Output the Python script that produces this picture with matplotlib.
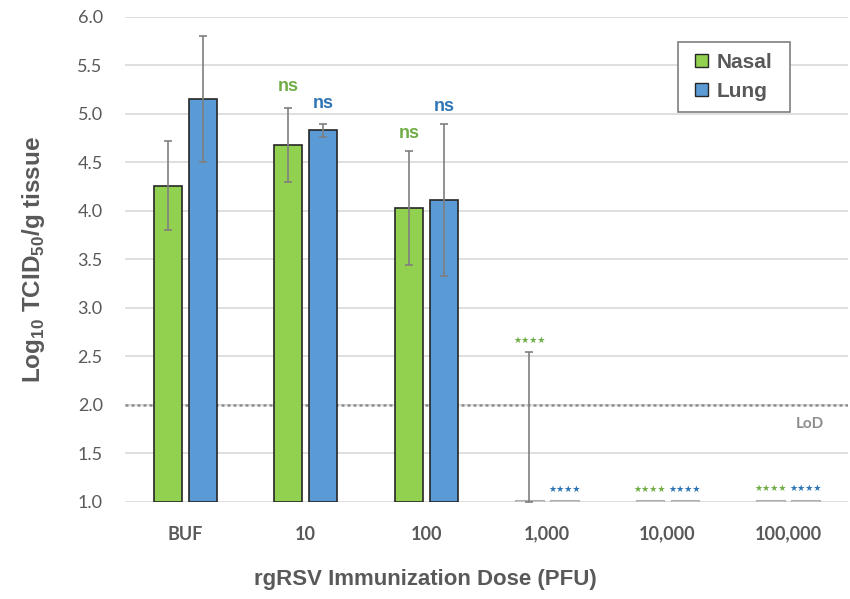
import numpy as np
import matplotlib.pyplot as plt

doses = ['BUF', '10', '100', '1,000', '10,000', '100,000']
nasal = [4.26, 4.68, 4.03, 1.0, 1.0, 1.0]
lung = [5.15, 4.83, 4.11, 1.0, 1.0, 1.0]
nasal_err = [0.46, 0.38, 0.59, 1.55, 0.0, 0.0]
lung_err = [0.65, 0.07, 0.78, 0.0, 0.0, 0.0]
nasal_sig = ['', 'ns', 'ns', '★★★★', '★★★★', '★★★★']
lung_sig = ['', 'ns', 'ns', '★★★★', '★★★★', '★★★★']
nasal_sig_y = [0, 5.28, 4.80, 2.66, 1.13, 1.14]
lung_sig_y = [0, 5.11, 5.08, 1.13, 1.13, 1.14]
lod = 2.0

green = '#92d050'
blue = '#5b9bd5'
txtgrey = '#595959'
grey = '#7f7f7f'
arial = 'Liberation Sans'
calib = 'Lato'

plt.rcParams['mathtext.fontset'] = 'custom'
plt.rcParams['mathtext.rm'] = arial
plt.rcParams['mathtext.bf'] = arial + ':bold'

fig = plt.figure(figsize=(8.5, 5.99), dpi=100)
ax = fig.add_axes([0.147, 0.162, 0.851, 0.81])

x = np.arange(len(doses))
w = 0.235
off = 0.145

for i in range(len(doses)):
    for val, err, col, dx in [(nasal[i], nasal_err[i], green, -off), (lung[i], lung_err[i], blue, off)]:
        if val > 1.0:
            ax.bar(x[i] + dx, val - 1.0, w, bottom=1.0, color=col, edgecolor='#262626', linewidth=1.2, zorder=3)
            ax.errorbar(x[i] + dx, val, yerr=err, fmt='none', ecolor=grey, elinewidth=1.2, capsize=3, capthick=1.2, zorder=4)
        else:
            ax.bar(x[i] + dx, 0.02, w, bottom=1.0, color='#c8c8c8', edgecolor='#b0b0b0', linewidth=0.8, zorder=3)
            if err > 0:
                ax.errorbar(x[i] + dx, val, yerr=[[0], [err]], fmt='none', ecolor=grey, elinewidth=1.2, capsize=3, capthick=1.2, zorder=4)

for i in range(len(doses)):
    for s, y, col, dx in [(nasal_sig[i], nasal_sig_y[i], '#70ad47', -off), (lung_sig[i], lung_sig_y[i], '#2e75b6', off)]:
        if s == 'ns':
            ax.text(x[i] + dx, y, s, color=col, fontsize=13, fontweight='bold', family=arial, ha='center', va='center')
        elif s:
            ax.text(x[i] + dx, y, s, color=col, fontsize=6.5, family='DejaVu Sans', ha='center', va='center')

ax.axhline(lod, color='#8c8c8c', linestyle=(0, (1.2, 1.2)), linewidth=1.8, zorder=2)
ax.text(5.18, 1.8, 'LoD', color='#8c8c8c', fontsize=11, fontweight='bold', family=calib, ha='center', va='center')

ax.set_xlim(-0.5, 5.5)
ax.set_ylim(1.0, 6.0)
ax.set_yticks(np.arange(1.0, 6.01, 0.5))
ax.set_yticklabels(['%.1f' % v for v in np.arange(1.0, 6.01, 0.5)], family=calib)
ax.set_xticks(x)
ax.set_xticklabels(doses, fontweight='bold', family=calib)
ax.tick_params(axis='y', colors=txtgrey, labelsize=13, length=0, pad=16)
ax.tick_params(axis='x', colors=txtgrey, labelsize=13, length=0, pad=17)
ax.grid(axis='y', color='#d9d9d9', linewidth=1.2, zorder=0)
ax.set_axisbelow(True)
for sp in ax.spines.values():
    sp.set_visible(False)

ax.set_ylabel('Log$_{\\mathregular{10}}$ TCID$_{\\mathregular{50}}$/g tissue', fontsize=17.5, fontweight='bold',
              family=arial, color=txtgrey, labelpad=22)
fig.text(0.5, 0.032, 'rgRSV Immunization Dose (PFU)', fontsize=16, fontweight='bold', family=arial,
         color=txtgrey, ha='center', va='center')

# legend box drawn by hand, legend itself without frame
box = plt.Rectangle((0.7976, 0.813), 0.1318, 0.1169, transform=fig.transFigure,
                    facecolor='white', edgecolor='#7f7f7f', linewidth=1.2, zorder=5)
fig.patches.append(box)
h1 = plt.Rectangle((0, 0), 1, 1, facecolor=green, edgecolor='#262626')
h2 = plt.Rectangle((0, 0), 1, 1, facecolor=blue, edgecolor='#262626')
leg = fig.legend([h1, h2], ['Nasal', 'Lung'], loc='center', bbox_to_anchor=(0.8635, 0.8715),
                 prop={'size': 15, 'weight': 'bold', 'family': arial}, frameon=False,
                 handlelength=0.6, handleheight=0.6, handletextpad=0.45, borderpad=0.3, labelspacing=0.5)
leg.set_zorder(6)
for t in leg.get_texts():
    t.set_color(txtgrey)

fig.savefig('out.png', dpi=100)
